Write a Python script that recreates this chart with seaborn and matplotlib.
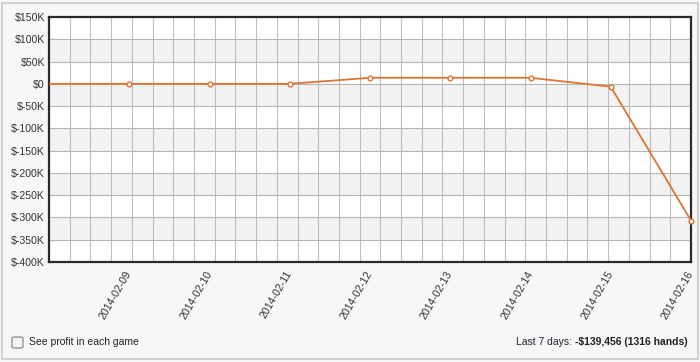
import matplotlib
matplotlib.use("Agg")
import matplotlib.pyplot as plt
import matplotlib.dates as mdates
import matplotlib.transforms as mtransforms
from matplotlib.patches import FancyBboxPatch, Rectangle
from matplotlib.ticker import FuncFormatter, FixedLocator
import numpy as np
import pandas as pd
import seaborn as sns

# ---- data ----
dates = ["2014-02-08", "2014-02-09", "2014-02-10", "2014-02-11", "2014-02-12",
         "2014-02-13", "2014-02-14", "2014-02-15", "2014-02-16"]
profit = [0, 0, 0, 0, 13500, 13500, 13500, -6500, -307000]
tick_dates = ["2014-02-09", "2014-02-10", "2014-02-11", "2014-02-12",
              "2014-02-13", "2014-02-14", "2014-02-15", "2014-02-16"]
y_ticks = [150000, 100000, 50000, 0, -50000, -100000, -150000, -200000,
           -250000, -300000, -350000, -400000]
summary_label = "Last 7 days: "
summary_value = "-$139,456 (1316 hands)"
checkbox_label = "See profit in each game"

df = pd.DataFrame({"date": pd.to_datetime(dates), "profit": profit})
marker_df = df.iloc[1:]

sns.set_style("white")
plt.rcParams["font.family"] = ["Liberation Sans", "DejaVu Sans"]

fig = plt.figure(figsize=(7.0, 3.62), dpi=100)
fig.patch.set_facecolor("#f7f7f7")
# outer frame
fig.patches.append(Rectangle((2 / 700, 3 / 362), 696 / 700, 356 / 362,
                             transform=fig.transFigure, fill=False,
                             edgecolor="#c9c9c9", linewidth=1.2))

ax = fig.add_axes([49 / 700, 1 - 262 / 362, 642 / 700, 245 / 362])
ax.set_facecolor("white")

x0 = mdates.date2num(pd.Timestamp(dates[0]))
x1 = mdates.date2num(pd.Timestamp(dates[-1]))
ax.set_xlim(x0, x1)
ax.set_ylim(-400000, 150000)

# alternating horizontal bands
for lo in [50000, -50000, -150000, -250000, -350000]:
    ax.axhspan(lo, lo + 50000, color="#f2f2f2", zorder=0, lw=0)

# grid
ax.yaxis.set_major_locator(FixedLocator(y_ticks))
ax.grid(axis="y", which="major", color="#b5b5b5", linewidth=0.8, zorder=1)
ax.xaxis.set_minor_locator(FixedLocator(np.linspace(x0, x1, 32)[1:-1]))
ax.grid(axis="x", which="minor", color="#bdbdbd", linewidth=0.8, zorder=1)
ax.set_axisbelow(True)

sns.lineplot(data=df, x="date", y="profit", ax=ax, color="#dc7533",
             linewidth=1.3, zorder=3)
sns.scatterplot(data=marker_df, x="date", y="profit", ax=ax, s=12,
                facecolor="white", edgecolor="#dc7533", linewidth=1.0,
                zorder=4, clip_on=False)

ax.set_xticks([mdates.date2num(pd.Timestamp(d)) for d in tick_dates])
ax.set_xticklabels(tick_dates, rotation=60, ha="right", va="center",
                   rotation_mode="anchor", fontsize=7.7, color="#333333")
offset = mtransforms.ScaledTranslation(-5 / 100, 0, fig.dpi_scale_trans)
for lab in ax.get_xticklabels():
    lab.set_transform(lab.get_transform() + offset)
ax.yaxis.set_major_formatter(FuncFormatter(
    lambda v, p: "$0" if v == 0 else f"${int(v/1000)}K"))
ax.tick_params(axis="y", labelsize=7.6, labelcolor="#333333", length=0, pad=3)
ax.tick_params(axis="x", which="both", length=0, pad=7)
ax.set_xlabel("")
ax.set_ylabel("")

for s in ax.spines.values():
    s.set_visible(True)
    s.set_color("#2a2a2a")
    s.set_linewidth(1.6)

# checkbox and texts at bottom
fig.patches.append(FancyBboxPatch((12 / 700, (362 - 348) / 362), 11 / 700, 11 / 362,
                                  boxstyle="round,pad=0,rounding_size=0.004",
                                  transform=fig.transFigure, facecolor="#f4f4f4",
                                  edgecolor="#8a8a8a", linewidth=0.9))
fig.text(29 / 700, 1 - 342 / 362, checkbox_label, fontsize=7.5,
         color="#222222", va="center", ha="left")
t_val = fig.text(688 / 700, 1 - 342 / 362, summary_value, fontsize=7.5,
                 fontweight="bold", color="#222222", va="center", ha="right")
fig.canvas.draw()
bb = t_val.get_window_extent()
fig.text(bb.x0 / 700, 1 - 342 / 362, summary_label, fontsize=7.5,
         color="#222233", va="center", ha="right")

fig.savefig("out.png", dpi=100, facecolor=fig.get_facecolor())
